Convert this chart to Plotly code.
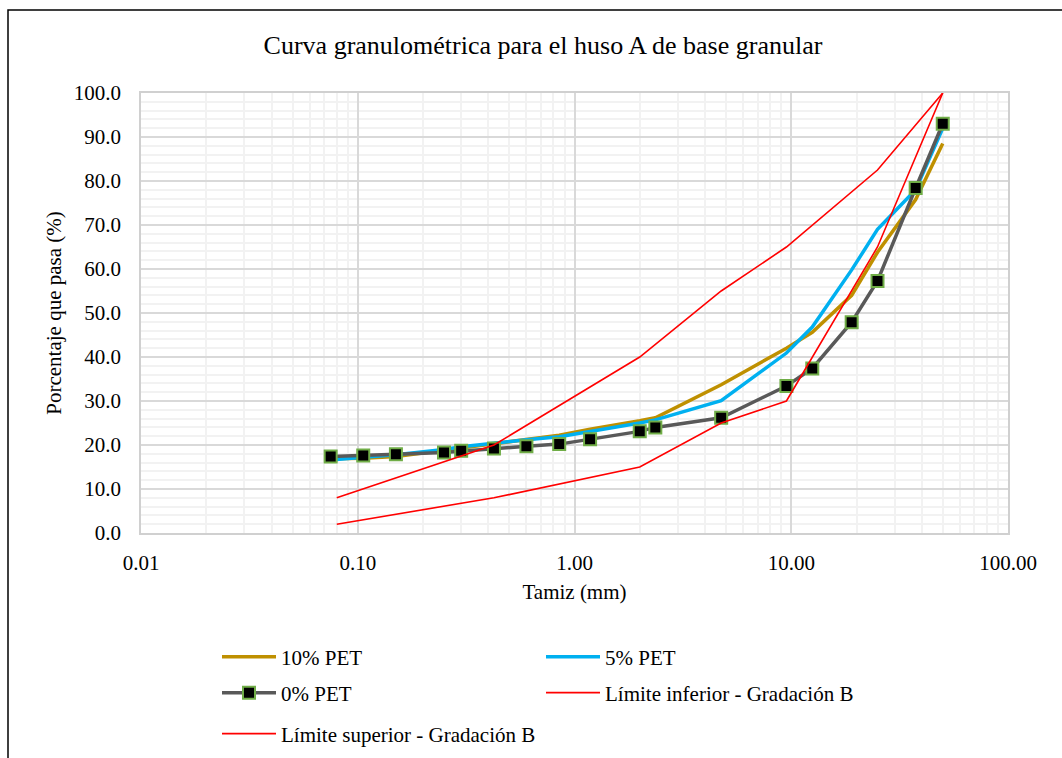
import plotly.graph_objects as go

# ---------------- data ----------------
sieve_mm = [50, 37.5, 25, 19, 12.5, 9.5, 4.75, 2.36, 2.0, 1.18, 0.85, 0.6, 0.425, 0.3, 0.25, 0.15, 0.106, 0.075]
pet10 = [88.5, 75.8, 63.8, 54.0, 45.6, 42.0, 33.7, 26.2, 25.5, 23.6, 22.2, 21.3, 20.3, 19.3, 18.8, 17.4, 17.0, 16.9]
pet5 = [92.0, 78.0, 69.0, 59.8, 46.8, 40.9, 30.1, 25.7, 25.0, 23.2, 21.9, 21.2, 20.5, 19.6, 19.0, 17.8, 17.2, 16.6]
pet0 = [93.0, 78.4, 57.3, 47.9, 37.4, 33.4, 26.2, 24.0, 23.1, 21.3, 20.2, 19.7, 19.2, 18.7, 18.3, 17.9, 17.6, 17.4]

lim_mm = [0.08, 0.425, 2.0, 4.75, 9.5, 25, 50]
lim_inf = [2, 8, 15, 25, 30, 65, 100]
lim_sup = [8, 20, 40, 55, 65, 82.5, 100]

x_tickvals = [0.01, 0.1, 1, 10, 100]
x_ticktext = ["0.01", "0.10", "1.00", "10.00", "100.00"]
y_tickvals = list(range(0, 101, 10))
y_ticktext = [f"{v:.1f}" for v in y_tickvals]

FONT = "Liberation Serif, Times New Roman, serif"

fig = go.Figure()
fig.add_trace(go.Scatter(x=sieve_mm, y=pet10, mode="lines", name="10% PET",
                         line=dict(color="#bf9000", width=3.5), legend="legend"))
fig.add_trace(go.Scatter(x=sieve_mm, y=pet5, mode="lines", name="5% PET",
                         line=dict(color="#00b0f0", width=3.5), legend="legend"))
fig.add_trace(go.Scatter(x=sieve_mm, y=pet0, mode="lines+markers", name="0% PET",
                         line=dict(color="#595959", width=3.5),
                         marker=dict(symbol="square", size=12, color="black",
                                     line=dict(color="#70ad47", width=2)),
                         legend="legend2"))
fig.add_trace(go.Scatter(x=lim_mm, y=lim_inf, mode="lines", name="Límite inferior - Gradación B",
                         line=dict(color="#ff0000", width=1.6), legend="legend2"))
fig.add_trace(go.Scatter(x=lim_mm, y=lim_sup, mode="lines", name="Límite superior - Gradación B",
                         line=dict(color="#ff0000", width=1.6), legend="legend3"))

L, R, T, B = 141, 54, 93, 225
W, H = 1062, 758
pw, ph = W - L - R, H - T - B

def px2x(px):
    return (px - L) / pw

def py2y(py):
    return (H - B - py) / ph

leg_common = dict(orientation="h", font=dict(family=FONT, size=21, color="black"),
                  bgcolor="rgba(0,0,0,0)", entrywidth=255, entrywidthmode="pixels",
                  itemwidth=54, xanchor="left", yanchor="middle", x=px2x(217))

fig.update_layout(
    width=W, height=H,
    margin=dict(l=L, r=R, t=T, b=B, autoexpand=False),
    paper_bgcolor="white", plot_bgcolor="white",
    font=dict(family=FONT, size=21, color="black"),
    title=dict(text="Curva granulométrica para el huso A de base granular",
               font=dict(family=FONT, size=26, color="black"),
               x=px2x(543), xanchor="center", xref="paper", y=1 - 45 / H, yanchor="middle"),
    legend=dict(**leg_common, y=py2y(657)),
    legend2=dict(**leg_common, y=py2y(693)),
    legend3=dict(**leg_common, y=py2y(734)),
    xaxis=dict(type="log", range=[-2, 2], tickvals=x_tickvals, ticktext=x_ticktext,
               showgrid=True, gridcolor="#d9d9d9", gridwidth=1.5,
               minor=dict(showgrid=True, gridcolor="#f2f2f2", gridwidth=1.5, dtick="D1", ticks=""),
               showline=True, linecolor="#d0d0d0", linewidth=1.5, mirror=True,
               ticks="outside", ticklen=10, tickcolor="rgba(0,0,0,0)",
               tickfont=dict(family=FONT, size=21, color="black"),
               title=dict(text="Tamiz (mm)", font=dict(family=FONT, size=21, color="black"), standoff=10),
               zeroline=False),
    yaxis=dict(range=[0, 100], tickvals=y_tickvals, ticktext=y_ticktext,
               showgrid=True, gridcolor="#d9d9d9", gridwidth=1.5,
               minor=dict(showgrid=True, gridcolor="#f2f2f2", gridwidth=1.5, dtick=2, ticks=""),
               showline=True, linecolor="#d0d0d0", linewidth=1.5, mirror=True,
               ticks="outside", ticklen=14, tickcolor="rgba(0,0,0,0)",
               tickfont=dict(family=FONT, size=21, color="black"),
               title=dict(text="Porcentaje que pasa (%)", font=dict(family=FONT, size=21, color="black"), standoff=6),
               zeroline=False),
    shapes=[dict(type="rect", xref="paper", yref="paper",
                 x0=px2x(8), x1=px2x(1080), y0=py2y(780), y1=py2y(10),
                 line=dict(color="black", width=1.5), fillcolor="rgba(0,0,0,0)", layer="above")],
)

fig.write_html("out.html", config={"displayModeBar": False},
               post_script="document.body.style.margin='0px';document.body.style.overflow='hidden';")
